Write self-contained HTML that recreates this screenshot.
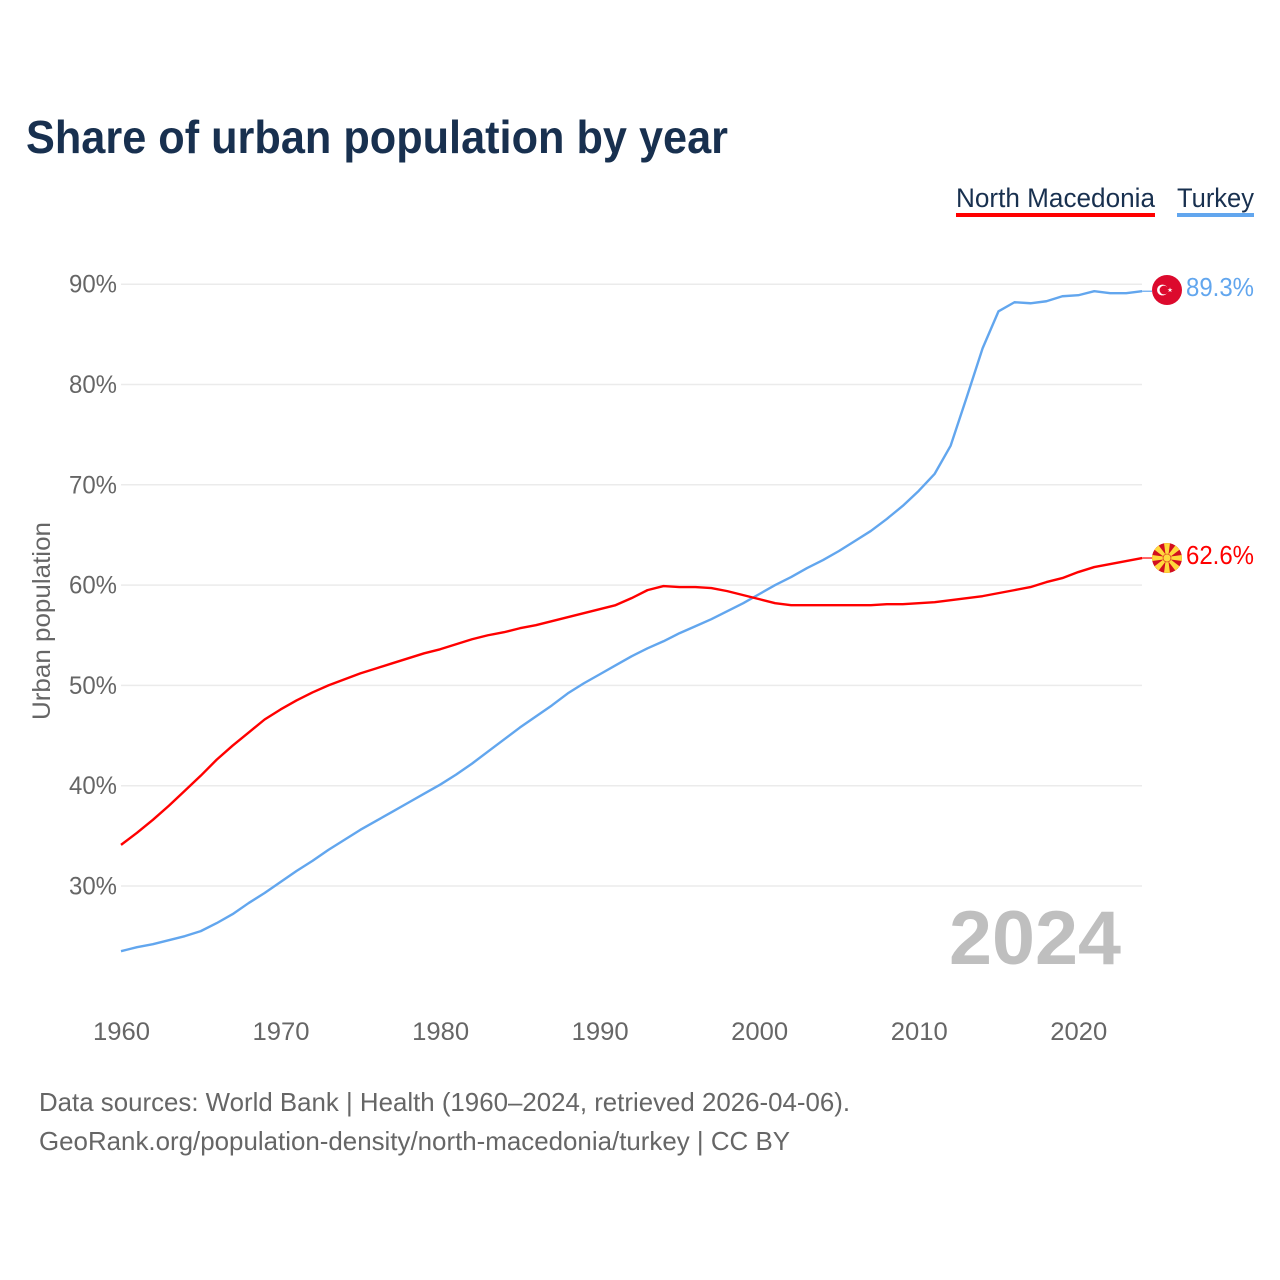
<!DOCTYPE html>
<html lang="en">
<head>
<meta charset="utf-8">
<title>Share of urban population by year</title>
<style>
html,body{margin:0;padding:0;background:#fff;}
svg{display:block;font-family:"Liberation Sans","DejaVu Sans",sans-serif;}
</style>
</head>
<body>
<svg id="chart" xmlns="http://www.w3.org/2000/svg" width="1280" height="1280" viewBox="0 0 1280 1280">
  <rect width="1280" height="1280" fill="#fff"/>
  <text x="26" y="153" font-size="46" font-weight="700" fill="#18304f" textLength="702" lengthAdjust="spacingAndGlyphs">Share of urban population by year</text>

  <g>
    <text x="956" y="207" font-size="27" fill="#18304f" textLength="199" lengthAdjust="spacingAndGlyphs">North Macedonia</text>
    <rect x="956" y="213" width="199" height="4" fill="#ff0000"/>
  </g>
  <g>
    <text x="1177" y="207" font-size="27" fill="#18304f" textLength="77" lengthAdjust="spacingAndGlyphs">Turkey</text>
    <rect x="1177" y="213" width="77" height="4" fill="#62a6ee"/>
  </g>

  <g id="grid"></g>
  <g id="yticks"></g>
  <g id="xticks"></g>
  <text transform="translate(50,621) rotate(-90)" text-anchor="middle" font-size="25" fill="#666" textLength="198" lengthAdjust="spacingAndGlyphs">Urban population</text>

  <text x="949" y="964" font-size="76" font-weight="700" fill="#bfbfbf" textLength="172" lengthAdjust="spacingAndGlyphs">2024</text>

  <g id="series"></g>

  <g id="flag-tr">
    <circle cx="1167" cy="290" r="15" fill="#dc0a2d"/>
    <circle cx="1162.5" cy="290" r="5.4" fill="#fff"/>
    <circle cx="1164" cy="290" r="4.4" fill="#dc0a2d"/>
    <polygon fill="#fff" points="1170,287.4 1170.6,289.2 1172.5,289.2 1171,290.3 1171.6,292.1 1170,291 1168.4,292.1 1169,290.3 1167.5,289.2 1169.4,289.2"/>
  </g>
  <g id="flag-mk">
    <circle cx="1167" cy="558" r="15" fill="#d20f1f"/>
    <g id="mk-rays"></g>
    <circle cx="1167" cy="558" r="4" fill="#ffd83c" stroke="#d20f1f" stroke-width="0.6"/>
  </g>

  <text x="1186" y="296" font-size="26" fill="#62a6ee" textLength="68" lengthAdjust="spacingAndGlyphs">89.3%</text>
  <text x="1186" y="564" font-size="26" fill="#ff0000" textLength="68" lengthAdjust="spacingAndGlyphs">62.6%</text>

  <text x="39" y="1111" font-size="26" fill="#666" textLength="811" lengthAdjust="spacingAndGlyphs">Data sources: World Bank | Health (1960–2024, retrieved 2026-04-06).</text>
  <a>
    <text x="39" y="1150" font-size="26" fill="#666" textLength="751" lengthAdjust="spacingAndGlyphs">GeoRank.org/population-density/north-macedonia/turkey | CC BY</text>
  </a>
</svg>
<script>
const startYear = 1960;
const yTickValues = [30, 40, 50, 60, 70, 80, 90];
const xTickValues = [1960, 1970, 1980, 1990, 2000, 2010, 2020];
const turkeyValues = [23.5,23.9,24.2,24.6,25.0,25.5,26.3,27.2,28.3,29.3,30.4,31.5,32.5,33.6,34.6,35.6,36.5,37.4,38.3,39.2,40.1,41.1,42.2,43.4,44.6,45.8,46.9,48.0,49.2,50.2,51.1,52.0,52.9,53.7,54.4,55.2,55.9,56.6,57.4,58.2,59.1,60.0,60.8,61.7,62.5,63.4,64.4,65.4,66.6,67.9,69.4,71.1,73.9,78.7,83.6,87.3,88.2,88.1,88.3,88.8,88.9,89.3,89.1,89.1,89.3];
const macedoniaValues = [34.1,35.3,36.6,38.0,39.5,41.0,42.6,44.0,45.3,46.6,47.6,48.5,49.3,50.0,50.6,51.2,51.7,52.2,52.7,53.2,53.6,54.1,54.6,55.0,55.3,55.7,56.0,56.4,56.8,57.2,57.6,58.0,58.7,59.5,59.9,59.8,59.8,59.7,59.4,59.0,58.6,58.2,58.0,58.0,58.0,58.0,58.0,58.0,58.1,58.1,58.2,58.3,58.5,58.7,58.9,59.2,59.5,59.8,60.3,60.7,61.3,61.8,62.1,62.4,62.7];

const NS = 'http://www.w3.org/2000/svg';
const xScale = year => 121 + (year - 1960) * 15.955;
const yScale = value => 886 - (value - 30) * 10.03;

function makeEl(tag, attrs, parent) {
  const el = document.createElementNS(NS, tag);
  for (const k in attrs) el.setAttribute(k, attrs[k]);
  parent.appendChild(el);
  return el;
}

const grid = document.getElementById('grid');
const yticks = document.getElementById('yticks');
yTickValues.forEach(v => {
  const line = makeEl('line', {x1: 121, x2: 1142, y1: yScale(v), y2: yScale(v), stroke: '#ebebeb', 'stroke-width': 1.5}, grid);
  
  
  const label = makeEl('text', {x: 117, y: yScale(v) + 8.5, 'text-anchor': 'end', 'font-size': 25, fill: '#666', textLength: 48, lengthAdjust: 'spacingAndGlyphs'}, yticks);
  label.textContent = v + '%';
  
  
});

const xticks = document.getElementById('xticks');
xTickValues.forEach(y => {
  const label = makeEl('text', {x: xScale(y) + 0.5, y: 1040, 'text-anchor': 'middle', 'font-size': 25, fill: '#666', textLength: 57, lengthAdjust: 'spacingAndGlyphs'}, xticks);
  label.textContent = y;
  
  
});

function drawSeries(values, color, name) {
  const g = document.getElementById('series');
  const pts = values.map((v, i) => xScale(startYear + i).toFixed(2) + ',' + yScale(v).toFixed(2)).join(' ');
  const path = makeEl('polyline', {points: pts, fill: 'none', stroke: color, 'stroke-width': 2.4, 'stroke-linejoin': 'round'}, g);
  
  
  const lastY = yScale(values[values.length - 1]);
  const lastX = xScale(startYear + values.length - 1);
  const link = makeEl('line', {x1: lastX, x2: 1152, y1: lastY, y2: lastY, stroke: color, 'stroke-width': 1.2}, g);
  
  
}
drawSeries(turkeyValues, '#62a6ee', 'line-turkey');
drawSeries(macedoniaValues, '#ff0000', 'line-north-macedonia');

const rays = document.getElementById('mk-rays');
for (let a = 0; a < 8; a++) {
  const ray = makeEl('polygon', {points: '1166,558 1168,558 1170,543.1 1164,543.1', fill: '#ffd83c', transform: 'rotate(' + (a * 45) + ' 1167 558)'}, rays);
  
  
}
</script>
</body>
</html>
